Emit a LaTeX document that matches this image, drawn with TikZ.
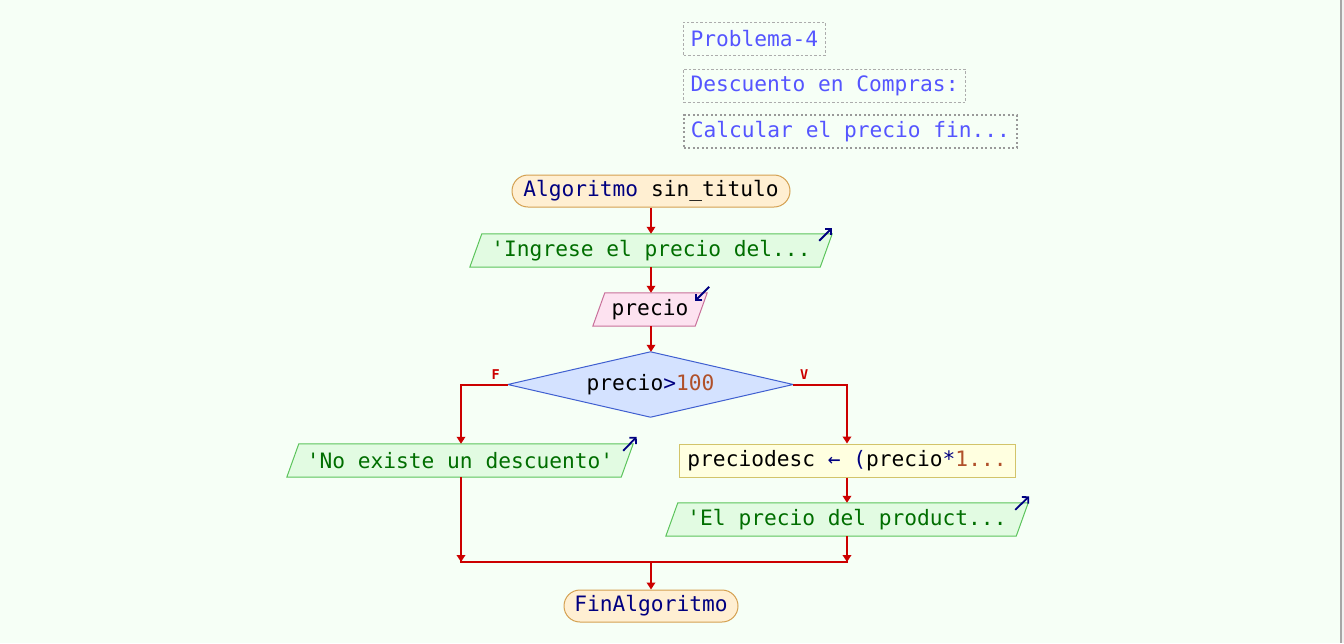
\documentclass[tikz,border=0pt]{standalone}
\usepackage{fontspec}
\setmonofont{DejaVu Sans Mono}
\usetikzlibrary{arrows.meta,backgrounds}
\definecolor{bg}{HTML}{F6FFF6}
\definecolor{flow}{HTML}{CC0000}
\definecolor{kw}{HTML}{000080}
\definecolor{num}{HTML}{B0502A}
\definecolor{strc}{HTML}{006E00}
\definecolor{titc}{HTML}{5555FF}
\definecolor{termfill}{HTML}{FFEFD2}
\definecolor{termdraw}{HTML}{D4A050}
\definecolor{iofill}{HTML}{E2FBE2}
\definecolor{iodraw}{HTML}{5CC45C}
\definecolor{infill}{HTML}{FDE2F0}
\definecolor{indraw}{HTML}{C8709A}
\definecolor{decfill}{HTML}{D4E2FF}
\definecolor{decdraw}{HTML}{3F5FD0}
\definecolor{procfill}{HTML}{FFFFE0}
\definecolor{procdraw}{HTML}{D2C46A}
\newcommand{\parashape}[3]{%
  \filldraw[fill=#2, draw=#3, line width=1pt]
    ([xshift=-6pt]#1.south west) -- ([xshift=6pt]#1.north west) --
    ([xshift=6pt]#1.north east) -- ([xshift=-6pt]#1.south east) -- cycle;}
\begin{document}
\begin{tikzpicture}[x=1pt,y=-1pt,
  font=\ttfamily\fontsize{21.2}{25}\selectfont,
  every node/.style={inner sep=0pt},
  term/.style={draw=termdraw, fill=termfill, line width=1pt, rounded corners=16pt, minimum height=32pt},
  io/.style={minimum height=33pt, text=strc},
  inbox/.style={minimum height=33pt},
  decbox/.style={minimum width=285pt, minimum height=65pt},
  proc/.style={draw=procdraw, fill=procfill, line width=1pt, minimum height=33pt},
  titlebox/.style={draw=gray!65, line width=1pt, dash pattern=on 2.5pt off 2pt, text=titc, inner xsep=7pt, minimum height=33pt, anchor=west},
  flow/.style={draw=flow, line width=2pt},
  arr/.style={flow, -{Triangle[length=7pt,width=8.5pt]}},
  icon/.style={draw=kw, line width=1.8pt, -{Straight Barb[length=4.5pt,width=9pt]}},
  lab/.style={text=flow, font=\ttfamily\bfseries\fontsize{13.5}{15}\selectfont}
]
\useasboundingbox (0,0) rectangle (1344,643);
\begin{scope}[on background layer]
  \fill[bg] (0,0) rectangle (1344,643);
  \fill[gray!12] (1340,0) rectangle (1344,643);
  \draw[gray!70, line width=2pt] (1341,0) -- (1341,643);
\end{scope}

% titles
\node[titlebox] (t1) at (683,38.5) {Problema-4};
\node[titlebox] (t2) at (683,85.5) {Descuento en Compras:};
\node[titlebox, draw=gray!80, line width=1.8pt, dash pattern=on 2pt off 2.5pt] (t3) at (683,131.5) {Calcular el precio fin...};

% nodes
\node[term, minimum width=278pt] (start) at (651,191) {\textcolor{kw}{Algoritmo} sin\string_titulo};
\node[io, minimum width=350pt] (in1) at (651,250.5) {'Ingrese el precio del...};
\node[inbox, minimum width=102pt] (in2) at (650,309.5) {precio};
\node[decbox] (dec) at (650.5,384.5) {precio\textcolor{kw}{>}\textcolor{num}{100}};
\node[io, minimum width=334pt] (no) at (460,460.5) {'No existe un descuento'};
\node[proc, minimum width=336pt] (pr) at (847,460.5) {preciodesc \textcolor{kw}{← (}precio\textcolor{kw}{*}\textcolor{num}{1...}};
\node[io, minimum width=350pt] (out) at (847,519.5) {'El precio del product...};
\node[term, minimum width=174pt] (fin) at (651,606) {\textcolor{kw}{FinAlgoritmo}};

\begin{scope}[on background layer]
  \parashape{in1}{iofill}{iodraw}
  \parashape{in2}{infill}{indraw}
  \parashape{no}{iofill}{iodraw}
  \parashape{out}{iofill}{iodraw}
  \filldraw[fill=decfill, draw=decdraw, line width=1pt]
    (dec.north) -- (dec.east) -- (dec.south) -- (dec.west) -- cycle;
\end{scope}

% icons
\draw[icon] ([shift={(-7,7)}]in1.north east) -- ([shift={(6,-6)}]in1.north east);
\draw[icon] ([shift={(8,-6)}]in2.north east) -- ([shift={(-6,8)}]in2.north east);
\draw[icon] ([shift={(-4,7)}]no.north east) -- ([shift={(9.5,-7)}]no.north east);
\draw[icon] ([shift={(-7,7)}]out.north east) -- ([shift={(7,-6.5)}]out.north east);

% labels
\node[lab] (flab) at ([shift={(-12,-10)}]dec.west) {F};
\node[lab] (vlab) at ([shift={(11,-10)}]dec.east) {V};

% connectors
\coordinate (jl) at (461,562);
\coordinate (jr) at (847,562);
\coordinate (jm) at (651,562);
\draw[arr] (start.south) -- (start.south |- in1.north);
\draw[arr] (in1.south) -- (in1.south |- in2.north);
\draw[arr] (in1.south |- in2.south) -- (in1.south |- dec.north);
\draw[arr] (dec.west) -| ([xshift=1pt]no.north);
\draw[arr] (dec.east) -| (pr.north);
\draw[arr] (pr.south) -- (out.north);
\draw[arr] ([xshift=1pt]no.south) -- (jl);
\draw[arr] (out.south) -- (jr);
\draw[flow, line cap=rect] (jl) -- (jr);
\draw[arr] (jm) -- (fin.north);
\end{tikzpicture}
\end{document}
